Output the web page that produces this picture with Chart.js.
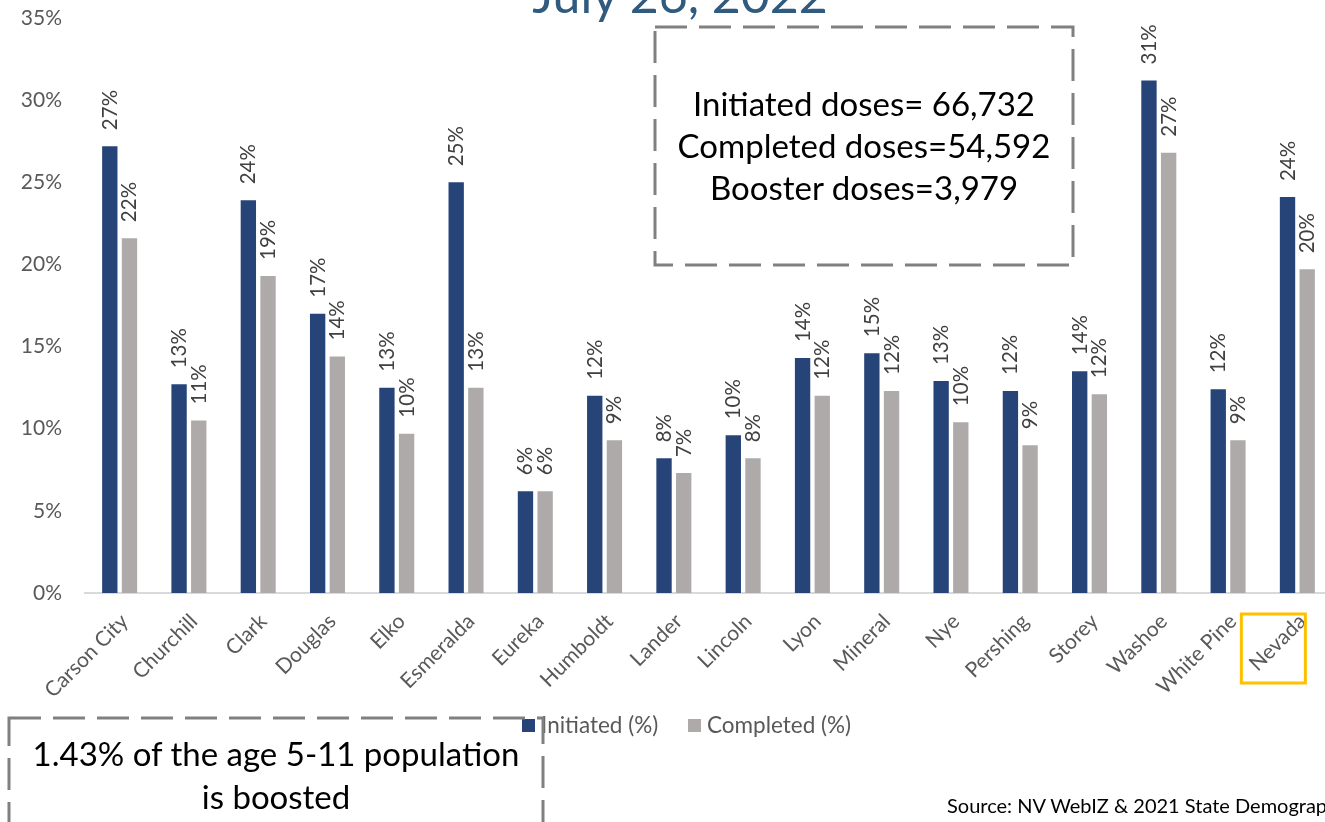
<!DOCTYPE html>
<html>
<head>
<meta charset="utf-8">
<script src="https://cdn.jsdelivr.net/npm/chart.js@4/dist/chart.umd.min.js"></script>
<style>
  html, body { margin: 0; padding: 0; background: #fff; overflow: hidden; }
  body { width: 1325px; height: 822px; position: relative; font-family: Lato, sans-serif; }
  #chart { position: absolute; left: 0; top: 0; }
  #overlay { position: absolute; left: 0; top: 0; }
</style>
</head>
<body>
<canvas id="chart" width="1332" height="822" style="width:1332px;height:822px"></canvas>
<svg id="overlay" width="1325" height="822" xmlns="http://www.w3.org/2000/svg">
  <text x="680" y="13" text-anchor="middle" font-family="Lato" font-size="50" fill="#305a7e">July 26, 2022</text>

  <rect x="655" y="27" width="418" height="238" fill="none" stroke="#808080" stroke-width="3" stroke-dasharray="32 12"/>
  <g font-family="Lato" font-size="33" fill="#000" text-anchor="middle">
    <text x="864" y="116">Initiated doses= 66,732</text>
    <text x="864" y="158">Completed doses=54,592</text>
    <text x="864" y="200">Booster doses=3,979</text>
  </g>

  <g font-family="Lato" font-size="22.5" fill="#595959">
    <rect x="522" y="719" width="13" height="13" fill="#264478"/>
    <text x="541" y="733">Initiated (%)</text>
    <rect x="688" y="719" width="13" height="13" fill="#aeaaaa"/>
    <text x="707" y="733">Completed (%)</text>
  </g>

  <rect x="9" y="718" width="534" height="140" fill="none" stroke="#808080" stroke-width="3" stroke-dasharray="32 12"/>
  <g font-family="Lato" font-size="33" fill="#000" text-anchor="middle">
    <text x="276" y="766">1.43% of the age 5-11 population</text>
    <text x="276" y="809">is boosted</text>
  </g>

  <text x="947" y="813" font-family="Lato" font-size="20" fill="#000">Source: NV WebIZ &amp; 2021 State Demographer</text>
</svg>
<script>
const counties = ["Carson City", "Churchill", "Clark", "Douglas", "Elko", "Esmeralda", "Eureka", "Humboldt", "Lander", "Lincoln", "Lyon", "Mineral", "Nye", "Pershing", "Storey", "Washoe", "White Pine", "Nevada"];
const initiated = [27.2, 12.7, 23.9, 17.0, 12.5, 25.0, 6.2, 12.0, 8.2, 9.6, 14.3, 14.6, 12.9, 12.3, 13.5, 31.2, 12.4, 24.1];
const completed = [21.6, 10.5, 19.3, 14.4, 9.7, 12.5, 6.2, 9.3, 7.3, 8.2, 12.0, 12.3, 10.4, 9.0, 12.1, 26.8, 9.3, 19.7];
const yTicks = [0, 5, 10, 15, 20, 25, 30, 35];
const highlighted = "Nevada";

// rotated value labels above each bar
const barLabels = {
  id: "barLabels",
  afterDatasetsDraw(chart) {
    const ctx = chart.ctx;
    ctx.save();
    ctx.font = "20.5px Lato";
    ctx.fillStyle = "#404040";
    ctx.textAlign = "left";
    ctx.textBaseline = "alphabetic";
    chart.data.datasets.forEach((ds, i) => {
      chart.getDatasetMeta(i).data.forEach((bar, j) => {
        ctx.save();
        ctx.translate(bar.x, bar.y - 16);
        ctx.rotate(-Math.PI / 2);
        ctx.fillText(Math.round(ds.data[j]) + "%", 0, 7);
        ctx.restore();
      });
    });
    ctx.restore();
  }
};

// yellow box round the state total label
const highlightBox = {
  id: "highlightBox",
  afterDraw(chart) {
    const xs = chart.scales.x;
    const x = xs.getPixelForValue(counties.indexOf(highlighted));
    const b = chart.chartArea.bottom;
    const ctx = chart.ctx;
    ctx.save();
    ctx.strokeStyle = "#ffc000";
    ctx.lineWidth = 3;
    ctx.strokeRect(x - 56, b + 21, 64, 69);
    ctx.restore();
  }
};

function draw() {
  new Chart(document.getElementById("chart"), {
    type: "bar",
    data: {
      labels: counties,
      datasets: [
        { label: "Initiated (%)", data: initiated, backgroundColor: "#264478", categoryPercentage: 0.568, barPercentage: 0.78 },
        { label: "Completed (%)", data: completed, backgroundColor: "#aeaaaa", categoryPercentage: 0.568, barPercentage: 0.78 }
      ]
    },
    options: {
      responsive: false,
      animation: false,
      layout: { padding: { top: 18, left: 0, right: 0, bottom: 0 } },
      plugins: { legend: { display: false }, tooltip: { enabled: false } },
      scales: {
        x: {
          grid: { display: false },
          border: { display: true, color: "#d9d9d9", width: 2 },
          ticks: { color: "#595959", font: { family: "Lato", size: 21 }, minRotation: 45, maxRotation: 45, autoSkip: false, padding: 8, labelOffset: 5 },
          afterFit: (s) => { s.height = 229; }
        },
        y: {
          min: 0,
          max: 35,
          grid: { display: false },
          border: { display: false },
          afterBuildTicks: (s) => { s.ticks = yTicks.map(v => ({ value: v })); },
          ticks: { color: "#595959", font: { family: "Lato", size: 21 }, padding: 15, callback: (v) => v + "%" },
          afterFit: (s) => { s.width = 85; s.paddingTop = 0; s.paddingBottom = 0; }
        }
      }
    },
    plugins: [barLabels, highlightBox]
  });
}

document.fonts.load("20px Lato").then(draw, draw);
</script>
</body>
</html>
